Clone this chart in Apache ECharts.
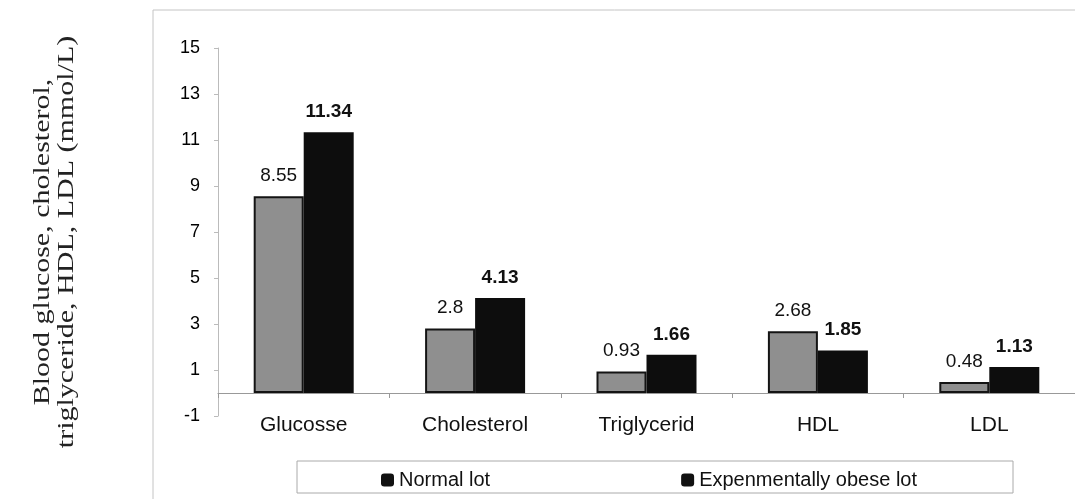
<!DOCTYPE html>
<html>
<head>
<meta charset="utf-8">
<script src="https://cdn.jsdelivr.net/npm/echarts@6/dist/echarts.min.js"></script>
<style>
  html, body { margin: 0; padding: 0; background: #fff; }
  #chart { width: 1075px; height: 499px; }
</style>
</head>
<body>
<div id="chart"></div>
<script>
// data
var categories = ['Glucosse', 'Cholesterol', 'Triglycerid', 'HDL', 'LDL'];
var normalLot = [8.55, 2.8, 0.93, 2.68, 0.48];
var obeseLot = [11.34, 4.13, 1.66, 1.85, 1.13];
var seriesNames = ['Normal lot', 'Expenmentally obese lot'];
var yTitle = 'Blood glucose, cholesterol,\ntriglyceride, HDL, LDL (mmol/L)';

var sans = '"Liberation Sans", Arial, sans-serif';
var serif = '"Liberation Serif", "Times New Roman", serif';

var myChart = echarts.init(document.getElementById('chart'));

var option = {
  backgroundColor: '#fff',
  animation: false,
  graphic: [
    {
      // outer chart frame
      type: 'rect',
      shape: { x: 153, y: 10, width: 1000, height: 600 },
      style: { fill: 'none', stroke: '#c4c4c4', lineWidth: 1 },
      silent: true
    },
    {
      // legend frame
      type: 'rect',
      shape: { x: 297, y: 461, width: 716, height: 32 },
      style: { fill: 'none', stroke: '#aaa', lineWidth: 1 },
      silent: true
    },
    {
      type: 'text',
      x: 55,
      y: 242,
      rotation: Math.PI / 2,
      scaleX: 1.25,
      style: {
        text: yTitle,
        font: '24px ' + serif,
        fill: '#222',
        align: 'center',
        verticalAlign: 'middle',
        lineHeight: 24
      },
      silent: true
    }
  ],
  legend: {
    left: 381,
    top: 470,
    padding: 0,
    itemGap: 191,
    itemWidth: 13,
    itemHeight: 13,
    icon: 'roundRect',
    textStyle: { fontFamily: sans, fontSize: 20, color: '#111' },
    data: [
      { name: seriesNames[0], itemStyle: { color: '#111', borderWidth: 0 } },
      { name: seriesNames[1], itemStyle: { color: '#111', borderWidth: 0 } }
    ]
  },
  grid: {
    left: 218,
    top: 48,
    width: 860,
    height: 368
  },
  xAxis: {
    type: 'category',
    data: categories,
    axisLine: { onZero: true, lineStyle: { color: '#999', width: 1 } },
    axisTick: { show: true, length: 5, lineStyle: { color: '#999' } },
    axisLabel: {
      margin: -1,
      fontFamily: sans,
      fontSize: 21,
      color: '#111'
    }
  },
  yAxis: {
    type: 'value',
    min: -1,
    max: 15,
    interval: 2,
    axisLine: { show: true, lineStyle: { color: '#bbb', width: 1 } },
    axisTick: { show: true, length: 4, lineStyle: { color: '#bbb' } },
    splitLine: { show: false },
    axisLabel: {
      margin: 18,
      fontFamily: sans,
      fontSize: 18,
      color: '#000'
    }
  },
  series: [
    {
      name: seriesNames[0],
      type: 'bar',
      data: normalLot,
      barWidth: 50,
      barGap: '0%',
      itemStyle: { color: '#8f8f8f', borderColor: '#141414', borderWidth: 2 },
      label: {
        show: true,
        position: 'top',
        distance: 11,
        fontFamily: sans,
        fontSize: 19,
        color: '#111'
      }
    },
    {
      name: seriesNames[1],
      type: 'bar',
      data: obeseLot,
      barWidth: 50,
      barGap: '0%',
      itemStyle: { color: '#0d0d0d' },
      label: {
        show: true,
        position: 'top',
        distance: 11,
        fontFamily: sans,
        fontWeight: 'bold',
        fontSize: 19,
        color: '#111'
      }
    }
  ]
};

myChart.setOption(option, true);
</script>
</body>
</html>
